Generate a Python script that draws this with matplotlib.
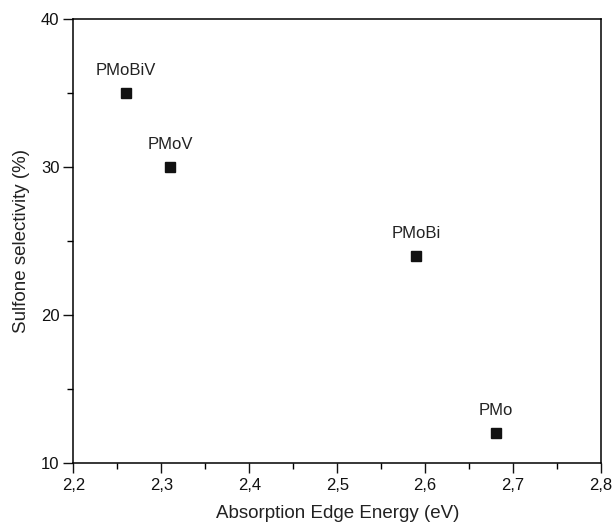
import matplotlib
matplotlib.use('Agg')
import matplotlib.pyplot as plt
from matplotlib.ticker import MultipleLocator, FuncFormatter

plt.rcParams['font.family'] = ['Liberation Sans', 'DejaVu Sans']

energy = [2.26, 2.31, 2.59, 2.68]
selectivity = [35, 30, 24, 12]
names = ['PMoBiV', 'PMoV', 'PMoBi', 'PMo']

fig = plt.figure(figsize=(6.13, 5.26), dpi=100)
ax = fig.add_axes([0.1196, 0.1203, 0.861, 0.843])

ax.plot(energy, selectivity, 's', color='#111111', markersize=7, linestyle='none')
for x, y, n in zip(energy, selectivity, names):
    ax.annotate(n, (x, y), xytext=(0, 11), textcoords='offset points',
                ha='center', va='bottom', fontsize=12, color='#222222')

ax.set_xlim(2.2, 2.8)
ax.set_ylim(10, 40)
ax.xaxis.set_major_locator(MultipleLocator(0.1))
ax.xaxis.set_minor_locator(MultipleLocator(0.05))
ax.yaxis.set_major_locator(MultipleLocator(10))
ax.yaxis.set_minor_locator(MultipleLocator(5))
ax.xaxis.set_major_formatter(FuncFormatter(lambda v, p: ('%.1f' % v).replace('.', ',')))
ax.yaxis.set_major_formatter(FuncFormatter(lambda v, p: '%d' % v))
ax.tick_params(which='major', direction='out', length=7, width=1, labelsize=12, colors='#111111')
ax.tick_params(which='minor', direction='out', length=4, width=1)
ax.tick_params(axis='x', which='major', pad=4.3)
ax.tick_params(axis='y', which='major', pad=3)
ax.tick_params(top=False, right=False, which='both')
for s in ax.spines.values():
    s.set_linewidth(1.1)

ax.set_xlabel('Absorption Edge Energy (eV)', fontsize=13.5, color='#222222', labelpad=8)
ax.set_ylabel('Sulfone selectivity (%)', fontsize=13.5, color='#222222', labelpad=8)

fig.savefig('out.png', dpi=100)
